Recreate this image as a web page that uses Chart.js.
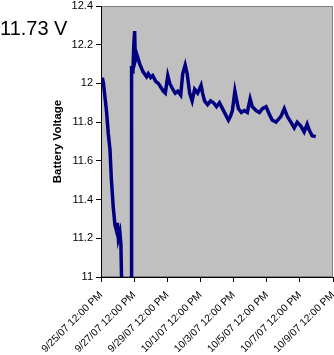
<!DOCTYPE html>
<html>
<head>
<meta charset="utf-8">
<script src="https://cdn.jsdelivr.net/npm/chart.js@4"></script>
<style>
  html, body { margin: 0; padding: 0; background: #fff; }
  #wrap { position: relative; width: 334px; height: 355px; }
  #big { position: absolute; left: 0px; top: 17px; font-family: "Liberation Sans", Arial, sans-serif; font-size: 20px; color: #000; line-height: 23px; white-space: nowrap; }
</style>
</head>
<body>
<div id="wrap">
  <canvas id="c" width="334" height="355"></canvas>
  <div id="big">11.73 V</div>
</div>
<script>
// Days elapsed since 9/25/07 12:00 PM
const days = [0.08, 0.15, 0.34, 0.44, 0.54, 0.63, 0.74, 0.84, 0.93, 0.99, 1.05, 1.14, 1.20, 1.24, 1.28, 1.38, 1.74, 1.82,
  1.845, 1.92, 1.98, 2.03, 2.07, 2.16, 2.34, 2.54, 2.75, 2.85, 3.0, 3.12, 3.31, 3.46, 3.61, 3.76, 3.88,
  4.03, 4.15, 4.33, 4.48, 4.63, 4.81, 4.93, 5.08, 5.2, 5.35, 5.5, 5.65, 5.83, 6.04, 6.13, 6.25, 6.43, 6.61,
  6.79, 6.97, 7.15, 7.33, 7.51, 7.69, 7.81, 7.93, 8.08, 8.17, 8.29, 8.47, 8.65, 8.83, 9.0, 9.13, 9.36, 9.56,
  9.74, 9.96, 10.16, 10.34, 10.56, 10.86, 11.06, 11.24, 11.46, 11.66, 11.84, 12.06, 12.26, 12.44, 12.56, 12.74, 12.96];
const voltage = [12.03, 12.00, 11.85, 11.74, 11.66, 11.50, 11.36, 11.27, 11.24, 11.28, 11.20, 11.23, 11.17, 11.00, 10.88, 10.60, 10.60, 10.90,
  12.09, 12.05, 12.20, 12.27, 12.12, 12.15, 12.10, 12.06, 12.035, 12.05, 12.03, 12.04, 12.01, 12.00, 11.98, 11.96, 11.95,
  12.04, 12.00, 11.97, 11.95, 11.96, 11.94, 12.05, 12.095, 12.05, 11.95, 11.91, 11.97, 11.95, 11.99, 11.95, 11.91, 11.89, 11.91,
  11.90, 11.88, 11.90, 11.87, 11.84, 11.81, 11.83, 11.86, 11.96, 11.92, 11.87, 11.85, 11.86, 11.85, 11.92, 11.88, 11.86, 11.85,
  11.87, 11.88, 11.84, 11.81, 11.80, 11.83, 11.87, 11.83, 11.80, 11.77, 11.80, 11.78, 11.75, 11.79, 11.76, 11.73, 11.725];
const xTickLabels = ['9/25/07 12:00 PM', '9/27/07 12:00 PM', '9/29/07 12:00 PM', '10/1/07 12:00 PM',
  '10/3/07 12:00 PM', '10/5/07 12:00 PM', '10/7/07 12:00 PM', '10/9/07 12:00 PM'];
const yTicks = [11, 11.2, 11.4, 11.6, 11.8, 12, 12.2, 12.4];
const yTitle = 'Battery Voltage';

const points = days.map((d, i) => ({ x: d, y: voltage[i] }));

const bgPlugin = {
  id: 'plotBg',
  beforeDraw(chart) {
    const { ctx, chartArea: a } = chart;
    ctx.save();
    ctx.fillStyle = '#c0c0c0';
    ctx.fillRect(a.left, a.top, a.right - a.left, a.bottom - a.top);
    ctx.strokeStyle = '#808080';
    ctx.lineWidth = 1;
    ctx.strokeRect(a.left + 0.5, a.top + 0.5, a.right - a.left - 1, a.bottom - a.top - 1);
    ctx.restore();
  }
};

const font = { family: '"Liberation Sans", Arial, sans-serif', size: 11 };

new Chart(document.getElementById('c'), {
  type: 'line',
  data: {
    datasets: [{
      data: points,
      borderColor: '#000080',
      borderWidth: 3.5,
      pointRadius: 0,
      tension: 0,
      fill: false
    }]
  },
  options: {
    responsive: false,
    animation: false,
    devicePixelRatio: 1,
    layout: { padding: { left: 45, top: 6, right: 1, bottom: 0 } },
    plugins: { legend: { display: false }, tooltip: { enabled: false } },
    scales: {
      x: {
        type: 'linear',
        min: 0, max: 14,
        afterBuildTicks: s => { s.ticks = xTickLabels.map((_, i) => ({ value: i * 2 })); },
        afterFit: s => { s.height = 78; s.paddingLeft = 0; s.paddingRight = 0; },
        ticks: {
          autoSkip: false, minRotation: 45, maxRotation: 45, padding: 7,
          color: '#000', font: { family: font.family, size: 10.3 },
          callback: v => xTickLabels[Math.round(v / 2)]
        },
        grid: { display: true, drawOnChartArea: false, drawTicks: true, tickLength: 5, color: '#000' },
        border: { display: true, color: '#000', width: 1 }
      },
      y: {
        min: 11, max: 12.4,
        afterBuildTicks: s => { s.ticks = yTicks.map(v => ({ value: v })); },
        afterFit: s => { s.width = 56; s.paddingTop = 0; s.paddingBottom = 0; },
        ticks: { color: '#000', font, padding: 3, callback: v => String(Math.round(v * 10) / 10) },
        grid: { display: true, drawOnChartArea: false, drawTicks: true, tickLength: 5, color: '#000' },
        border: { display: true, color: '#000', width: 1 },
        title: { display: true, text: yTitle, color: '#000', font: { family: font.family, size: 11.5, weight: 'bold' }, padding: { top: 6, bottom: 0 } }
      }
    }
  },
  plugins: [bgPlugin]
});
</script>
</body>
</html>
